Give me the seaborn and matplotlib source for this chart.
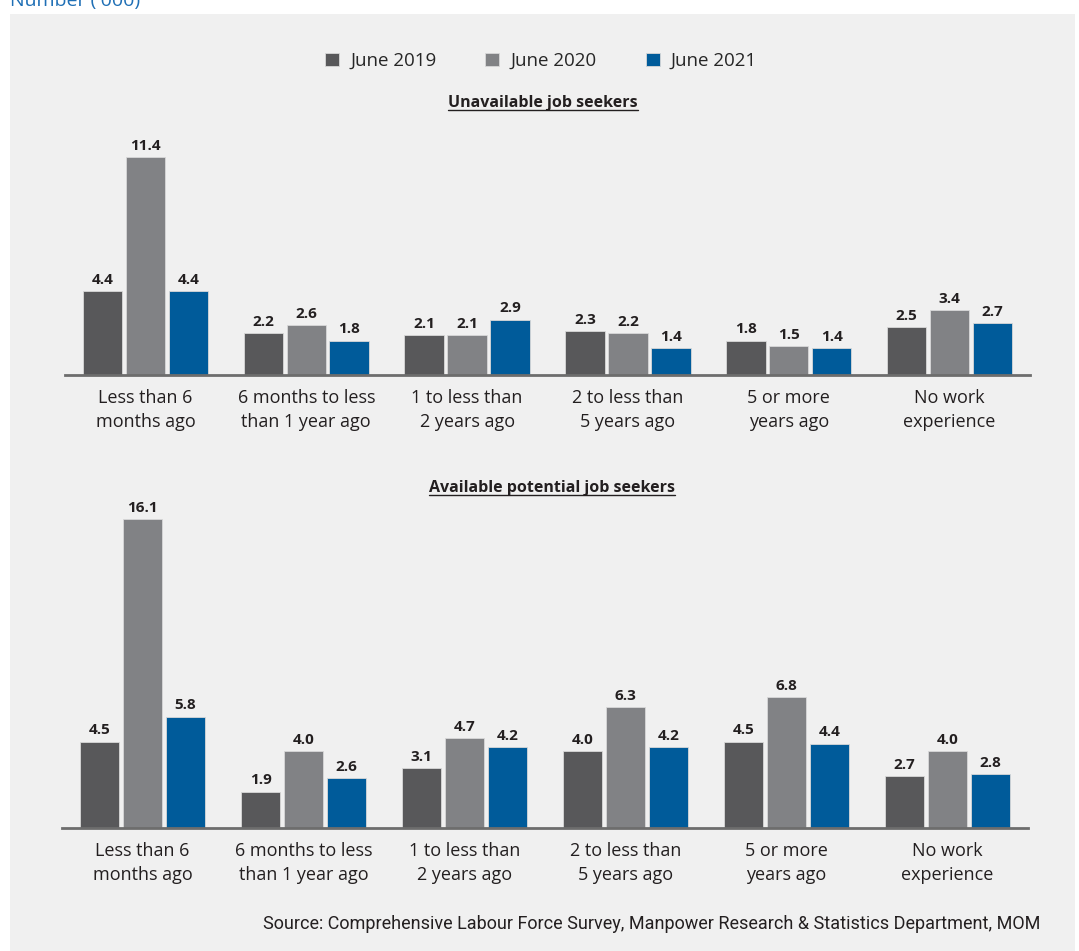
import pandas as pd
import matplotlib.pyplot as plt
import matplotlib.lines as mlines
import matplotlib.patches as mpatches
import seaborn as sns

# Data
categories = ["Less than 6\nmonths ago", "6 months to less\nthan 1 year ago", "1 to less than\n2 years ago",
              "2 to less than\n5 years ago", "5 or more\nyears ago", "No work\nexperience"]
periods = ["June 2019", "June 2020", "June 2021"]

unavail_2019 = [4.4, 2.2, 2.1, 2.3, 1.8, 2.5]
unavail_2020 = [11.4, 2.6, 2.1, 2.2, 1.5, 3.4]
unavail_2021 = [4.4, 1.8, 2.9, 1.4, 1.4, 2.7]

avail_2019 = [4.5, 1.9, 3.1, 4.0, 4.5, 2.7]
avail_2020 = [16.1, 4.0, 4.7, 6.3, 6.8, 4.0]
avail_2021 = [5.8, 2.6, 4.2, 4.2, 4.4, 2.8]

colors = ["#58585a", "#818285", "#005b9a"]


def to_long(s19, s20, s21):
    rows = []
    for p, vals in zip(periods, [s19, s20, s21]):
        for c, v in zip(categories, vals):
            rows.append({"category": c, "period": p, "value": v})
    return pd.DataFrame(rows)


sns.set_theme(style="white")
plt.rcParams["font.family"] = ["Open Sans", "DejaVu Sans"]

W, H = 1079, 951
fig = plt.figure(figsize=(W / 100, H / 100), dpi=100)
fig.patch.set_facecolor("white")

# gray panel
fig.patches.append(mpatches.Rectangle((10 / W, 0), 1065 / W, (H - 14) / H, transform=fig.transFigure,
                                      facecolor="#f0f0f0", edgecolor="none", zorder=-10))


def px_axes(left, right, top, bottom):
    return fig.add_axes([left / W, (H - bottom) / H, (right - left) / W, (bottom - top) / H])


ax1 = px_axes(65, 1030, 125, 375)
ax2 = px_axes(62, 1028, 505, 828)

for ax, df, ymax in [(ax1, to_long(unavail_2019, unavail_2020, unavail_2021), 250 / 19.1),
                     (ax2, to_long(avail_2019, avail_2020, avail_2021), 323 / 19.2)]:
    sns.barplot(data=df, x="category", y="value", hue="period", palette=colors, saturation=1, ax=ax,
                width=0.8, gap=0.08, edgecolor="#d8d8d8", linewidth=0.6, legend=(ax is ax1))
    for cont in ax.containers:
        ax.bar_label(cont, fmt="%.1f", padding=3, fontsize=11, fontweight="bold", color="#231f20")
    ax.set_facecolor("none")
    ax.set_ylim(0, ymax)
    ax.set_xlim(-0.5, 5.5)
    ax.set_xlabel("")
    ax.set_ylabel("")
    ax.set_yticks([])
    for s in ["top", "left", "right"]:
        ax.spines[s].set_visible(False)
    ax.spines["bottom"].set_color("#6d6d6d")
    ax.spines["bottom"].set_linewidth(2)
    ax.tick_params(axis="x", length=0, pad=10, labelsize=13, labelcolor="#231f20")
    for lbl in ax.get_xticklabels():
        lbl.set_linespacing(1.45)

handles, labels = ax1.get_legend_handles_labels()
ax1.get_legend().remove()
fig.legend(handles, labels, loc="center", bbox_to_anchor=(541 / W, 1 - 61 / H), ncol=3, frameon=False,
           fontsize=13.5, handlelength=0.75, handleheight=0.75, handletextpad=0.6, columnspacing=2.6)

# titles with underline
titles = []
titles.append(fig.text(543 / W, 1 - 103 / H, "Unavailable job seekers", ha="center", va="center",
                       fontsize=11.5, fontweight="bold", color="#231f20"))
titles.append(fig.text(552 / W, 1 - 488 / H, "Available potential job seekers", ha="center", va="center",
                       fontsize=11.5, fontweight="bold", color="#231f20"))

fig.text(1040 / W, 1 - 924 / H,
         "Source: Comprehensive Labour Force Survey, Manpower Research & Statistics Department, MOM",
         ha="right", va="center", fontsize=13, color="#231f20",
         family=["Roboto", "DejaVu Sans"])

fig.text(10 / W, 1 - 1 / H, "Number ('000)", ha="left", va="center", fontsize=14, color="#1f6fb5")

fig.canvas.draw()
renderer = fig.canvas.get_renderer()
for t in titles:
    bb = t.get_window_extent(renderer).transformed(fig.transFigure.inverted())
    fig.lines.append(mlines.Line2D([bb.x0, bb.x1], [bb.y0 + 0.001, bb.y0 + 0.001], transform=fig.transFigure,
                                   color="#231f20", linewidth=1))

fig.savefig("out.png", dpi=100, facecolor=fig.get_facecolor())
